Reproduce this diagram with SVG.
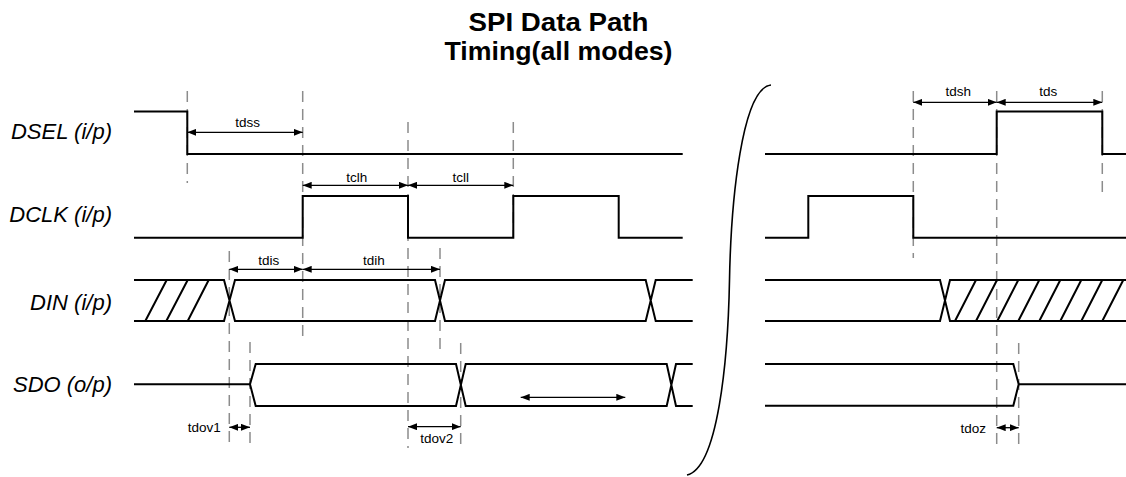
<svg xmlns="http://www.w3.org/2000/svg" width="1126" height="477" viewBox="0 0 1126 477">
<style>
.wave{fill:none;stroke:#000;stroke-width:2;stroke-linejoin:miter}
.guide{fill:none;stroke:#8c8c8c;stroke-width:1.5;stroke-dasharray:11 7}
.dim{fill:none;stroke:#000;stroke-width:1.3;marker-start:url(#ah);marker-end:url(#ah)}
.sig{font-family:"Liberation Sans",Arial,sans-serif;font-style:italic;font-size:22px;fill:#000;text-anchor:end}
.lbl{font-family:"Liberation Sans",Arial,sans-serif;font-size:13.5px;fill:#000;text-anchor:middle}
.lblr{font-family:"Liberation Sans",Arial,sans-serif;font-size:13.5px;fill:#000;text-anchor:end}
.title{font-family:"Liberation Sans",Arial,sans-serif;font-weight:bold;font-size:25px;fill:#000;text-anchor:middle}
</style>
<defs>
<marker id="ah" markerUnits="userSpaceOnUse" markerWidth="9" markerHeight="7" refX="9" refY="3.5" orient="auto-start-reverse">
<path d="M0,0 L9,3.5 L0,7 z" fill="#000"/>
</marker>
</defs>
<rect width="1126" height="477" fill="#fff"/>

<g id="title">
<text class="title" x="558.5" y="30.5" textLength="180" lengthAdjust="spacingAndGlyphs">SPI Data Path</text>
<text class="title" x="558.5" y="60" textLength="228" lengthAdjust="spacingAndGlyphs">Timing(all modes)</text>
</g>

<g id="guides">
<line class="guide" x1="187.3" y1="91" x2="187.3" y2="183"/>
<line class="guide" x1="302.7" y1="91" x2="302.7" y2="343"/>
<line class="guide" x1="408" y1="122" x2="408" y2="448"/>
<line class="guide" x1="513.3" y1="122" x2="513.3" y2="238"/>
<line class="guide" x1="229.3" y1="251" x2="229.3" y2="442"/>
<line class="guide" x1="440" y1="248" x2="440" y2="353"/>
<line class="guide" x1="250" y1="342" x2="250" y2="448"/>
<line class="guide" x1="460.7" y1="343" x2="460.7" y2="448"/>
<line class="guide" x1="913.3" y1="91" x2="913.3" y2="258"/>
<line class="guide" x1="996.7" y1="91" x2="996.7" y2="446"/>
<line class="guide" x1="1102.3" y1="91" x2="1102.3" y2="197"/>
<line class="guide" x1="1018.7" y1="343" x2="1018.7" y2="448"/>
</g>

<g id="dsel">
<text class="sig" x="112" y="138.5">DSEL (i/p)</text>
<polyline class="wave" points="134,111.5 187.3,111.5 187.3,154 682.7,154"/>
<polyline class="wave" points="765,154 996.7,154 996.7,111.5 1102.3,111.5 1102.3,154 1126,154"/>
</g>

<g id="dclk">
<text class="sig" x="112" y="222">DCLK (i/p)</text>
<polyline class="wave" points="134,237.7 302.7,237.7 302.7,196 408,196 408,237.7 513.3,237.7 513.3,196 618.7,196 618.7,237.7 682.7,237.7"/>
<polyline class="wave" points="765,237.7 808.3,237.7 808.3,196 913.3,196 913.3,237.7 1126,237.7"/>
</g>

<g id="din">
<text class="sig" x="112" y="310">DIN (i/p)</text>
<path class="wave" d="M134,280 H224 L235,321 H435 L445,280 H645.7 L655.7,321 H692.7 M134,321 H224 L235,280 H435 L445,321 H645.7 L655.7,280 H692.7"/>
<path class="wave" d="M145.3,321 L166.7,280 M166.3,321 L187.7,280 M187.7,321 L208.7,280"/>
<path class="wave" d="M765,280 H940 L950,321 H1126 M765,321 H940 L950,280 H1126"/>
<path class="wave" d="M955,321 L976,280 M976,321 L997,280 M997.3,321 L1018.3,280 M1018.3,321 L1039.3,280 M1039.3,321 L1060.3,280 M1060.3,321 L1081.3,280 M1081.3,321 L1102.3,280 M1102.3,321 L1123.3,280"/>
</g>

<g id="sdo">
<text class="sig" x="112" y="391.5">SDO (o/p)</text>
<path class="wave" d="M134,384.3 H250 L255.7,364 H456 L465.7,406 H666.7 L676,364 H692.7 M250,384.3 L255.7,406 H456 L465.7,364 H666.7 L676,406 H692.7"/>
<path class="wave" d="M765,364 H1013.3 L1018.7,384.3 L1013.3,405.7 H765 M1018.7,384.3 H1126"/>
</g>

<g id="break">
<path class="wave" style="stroke-width:1.6" d="M771,85 C742,88 731,200 729.5,280 C728,360 718,468 687,475"/>
</g>

<g id="connectors">
<line class="dim" x1="187.3" y1="132.3" x2="302.7" y2="132.3"/>
<line class="dim" x1="302.7" y1="185.3" x2="408" y2="185.3"/>
<line class="dim" x1="408" y1="185.3" x2="513.3" y2="185.3"/>
<line class="dim" x1="229.3" y1="269.3" x2="302.7" y2="269.3"/>
<line class="dim" x1="302.7" y1="269.3" x2="440" y2="269.3"/>
<line class="dim" x1="229.3" y1="427.3" x2="250" y2="427.3"/>
<line class="dim" x1="408" y1="426.7" x2="460.7" y2="426.7"/>
<line class="dim" x1="520.7" y1="397.3" x2="625.3" y2="397.3"/>
<line class="dim" x1="913.3" y1="102.3" x2="996.7" y2="102.3"/>
<line class="dim" x1="996.7" y1="102.3" x2="1102.3" y2="102.3"/>
<line class="dim" x1="996.7" y1="427.7" x2="1018.7" y2="427.7"/>
</g>

<g id="timing-labels">
<text class="lbl" x="247.7" y="127.3">tdss</text>
<text class="lbl" x="356.7" y="181.5">tclh</text>
<text class="lbl" x="460.7" y="181.5">tcll</text>
<text class="lbl" x="268.8" y="265">tdis</text>
<text class="lbl" x="374" y="265">tdih</text>
<text class="lblr" x="220.7" y="432.3">tdov1</text>
<text class="lbl" x="436.7" y="443.3">tdov2</text>
<text class="lbl" x="958.3" y="96">tdsh</text>
<text class="lbl" x="1048.3" y="96">tds</text>
<text class="lblr" x="986" y="433.3">tdoz</text>
</g>
</svg>
